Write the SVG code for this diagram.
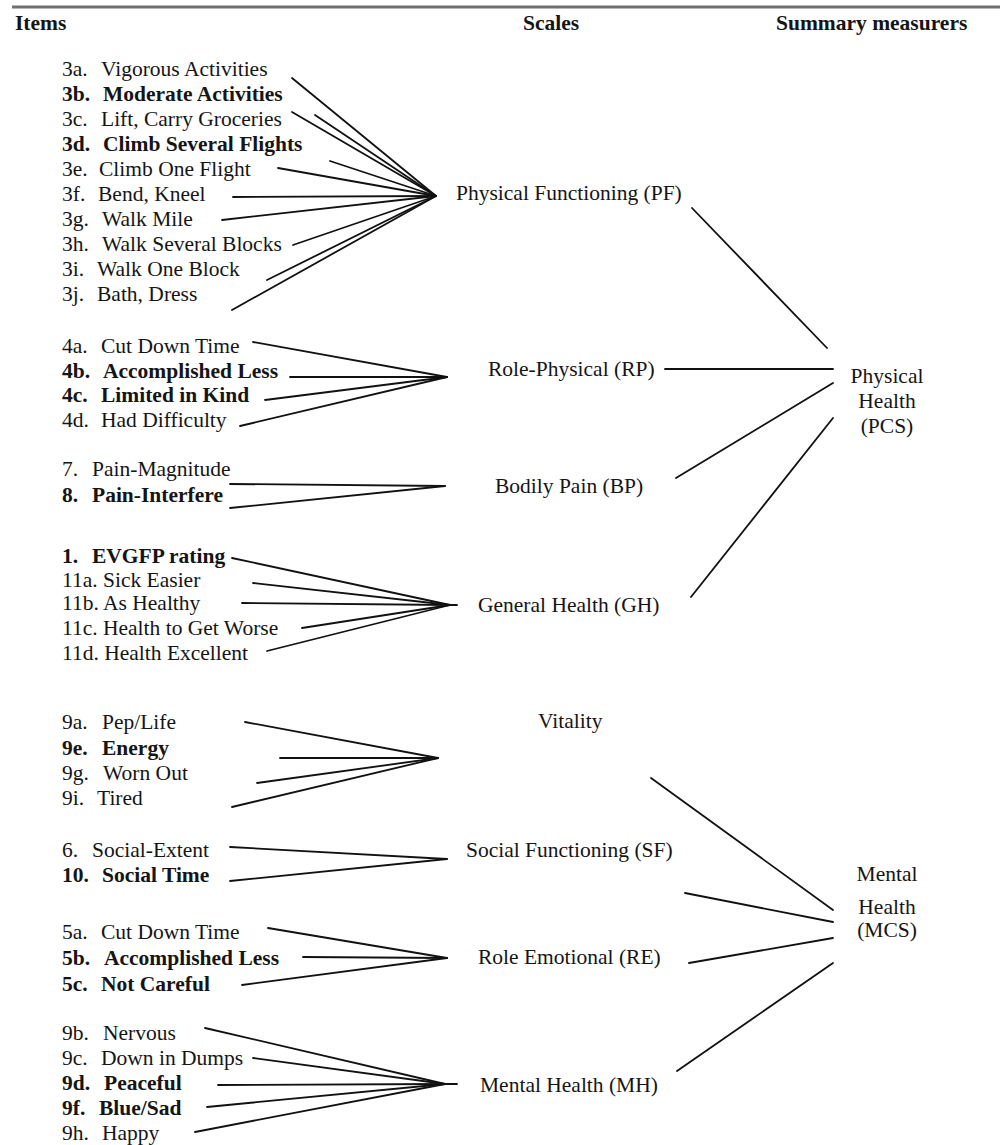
<svg xmlns="http://www.w3.org/2000/svg" width="1000" height="1145" viewBox="0 0 1000 1145">
<style>
text{font-family:"Liberation Serif","Times New Roman",serif;font-size:21.5px;fill:#151515;white-space:pre}
.b{font-weight:bold}
.c{text-anchor:middle}
.conn line{stroke:#111;stroke-width:1.8;stroke-linecap:round}
</style>
<rect width="1000" height="1145" fill="#fff"/>
<line x1="12" y1="7" x2="1000" y2="7" stroke="#707070" stroke-width="3"/>
<g id="headers">
<text class="b" x="15" y="30">Items</text>
<text class="b" x="523" y="30">Scales</text>
<text class="b" x="776" y="30">Summary measurers</text>
</g>
<g class="conn" id="connectors">
<line x1="292" y1="78" x2="436" y2="196"/>
<line x1="292" y1="112" x2="436" y2="196"/>
<line x1="315" y1="115" x2="436" y2="196"/>
<line x1="330" y1="161" x2="436" y2="196"/>
<line x1="278" y1="168" x2="436" y2="196"/>
<line x1="233" y1="197" x2="436" y2="196"/>
<line x1="222" y1="220" x2="436" y2="196"/>
<line x1="293" y1="245" x2="436" y2="196"/>
<line x1="267" y1="280" x2="436" y2="196"/>
<line x1="232" y1="310" x2="436" y2="196"/>
<line x1="253" y1="342" x2="447" y2="377"/>
<line x1="290" y1="377" x2="447" y2="377"/>
<line x1="265" y1="400" x2="447" y2="377"/>
<line x1="240" y1="426" x2="447" y2="377"/>
<line x1="230" y1="484" x2="445" y2="486"/>
<line x1="230" y1="508" x2="445" y2="486"/>
<line x1="232" y1="558" x2="450" y2="605"/>
<line x1="253" y1="583" x2="450" y2="605"/>
<line x1="242" y1="603" x2="450" y2="605"/>
<line x1="302" y1="628" x2="450" y2="605"/>
<line x1="267" y1="651" x2="450" y2="605"/>
<line x1="450" y1="605" x2="457" y2="605"/>
<line x1="245" y1="722" x2="438" y2="758"/>
<line x1="280" y1="758" x2="438" y2="758"/>
<line x1="257" y1="783" x2="438" y2="758"/>
<line x1="232" y1="807" x2="438" y2="758"/>
<line x1="230" y1="847" x2="447" y2="859"/>
<line x1="230" y1="881" x2="447" y2="859"/>
<line x1="268" y1="928" x2="447" y2="958"/>
<line x1="303" y1="957" x2="447" y2="958"/>
<line x1="242" y1="985" x2="447" y2="958"/>
<line x1="205" y1="1028" x2="445" y2="1084"/>
<line x1="253" y1="1058" x2="445" y2="1084"/>
<line x1="218" y1="1085" x2="445" y2="1084"/>
<line x1="207" y1="1107" x2="445" y2="1084"/>
<line x1="195" y1="1132" x2="445" y2="1084"/>
<line x1="445" y1="1084" x2="457" y2="1084"/>
<line x1="692" y1="208" x2="827" y2="348"/>
<line x1="665" y1="369" x2="833" y2="369"/>
<line x1="676" y1="478" x2="833" y2="383"/>
<line x1="691" y1="597" x2="833" y2="418"/>
<line x1="651" y1="778" x2="833" y2="910"/>
<line x1="685" y1="893" x2="833" y2="922"/>
<line x1="689" y1="963" x2="833" y2="938"/>
<line x1="677" y1="1071" x2="833" y2="963"/>
</g>
<g id="item-3a"><text y="76"><tspan x="62">3a.</tspan><tspan x="101">Vigorous Activities</tspan></text></g>
<g id="item-3b"><text class="b" y="101"><tspan x="62">3b.</tspan><tspan x="103">Moderate Activities</tspan></text></g>
<g id="item-3c"><text y="126"><tspan x="62">3c.</tspan><tspan x="101">Lift, Carry Groceries</tspan></text></g>
<g id="item-3d"><text class="b" y="151"><tspan x="62">3d.</tspan><tspan x="103">Climb Several Flights</tspan></text></g>
<g id="item-3e"><text y="176"><tspan x="62">3e.</tspan><tspan x="99">Climb One Flight</tspan></text></g>
<g id="item-3f"><text y="201"><tspan x="62">3f.</tspan><tspan x="98">Bend, Kneel</tspan></text></g>
<g id="item-3g"><text y="226"><tspan x="62">3g.</tspan><tspan x="102">Walk Mile</tspan></text></g>
<g id="item-3h"><text y="251"><tspan x="62">3h.</tspan><tspan x="102">Walk Several Blocks</tspan></text></g>
<g id="item-3i"><text y="276"><tspan x="62">3i.</tspan><tspan x="97">Walk One Block</tspan></text></g>
<g id="item-3j"><text y="301"><tspan x="62">3j.</tspan><tspan x="97">Bath, Dress</tspan></text></g>
<g id="item-4a"><text y="353"><tspan x="62">4a.</tspan><tspan x="101">Cut Down Time</tspan></text></g>
<g id="item-4b"><text class="b" y="378"><tspan x="62">4b.</tspan><tspan x="103">Accomplished Less</tspan></text></g>
<g id="item-4c"><text class="b" y="402"><tspan x="62">4c.</tspan><tspan x="101">Limited in Kind</tspan></text></g>
<g id="item-4d"><text y="427"><tspan x="62">4d.</tspan><tspan x="101">Had Difficulty</tspan></text></g>
<g id="item-7"><text y="476"><tspan x="62">7.</tspan><tspan x="92">Pain-Magnitude</tspan></text></g>
<g id="item-8"><text class="b" y="502"><tspan x="62">8.</tspan><tspan x="92">Pain-Interfere</tspan></text></g>
<g id="item-1"><text class="b" y="563"><tspan x="62">1.</tspan><tspan x="92">EVGFP rating</tspan></text></g>
<g id="item-11a"><text y="587" x="62">11a. Sick Easier</text></g>
<g id="item-11b"><text y="610" x="62">11b. As Healthy</text></g>
<g id="item-11c"><text y="635" x="62">11c. Health to Get Worse</text></g>
<g id="item-11d"><text y="660" x="62">11d. Health Excellent</text></g>
<g id="item-9a"><text y="729"><tspan x="62">9a.</tspan><tspan x="102">Pep/Life</tspan></text></g>
<g id="item-9e"><text class="b" y="755"><tspan x="62">9e.</tspan><tspan x="102">Energy</tspan></text></g>
<g id="item-9g"><text y="780"><tspan x="62">9g.</tspan><tspan x="103">Worn Out</tspan></text></g>
<g id="item-9i"><text y="805"><tspan x="62">9i.</tspan><tspan x="97">Tired</tspan></text></g>
<g id="item-6"><text y="857"><tspan x="62">6.</tspan><tspan x="92">Social-Extent</tspan></text></g>
<g id="item-10"><text class="b" y="882"><tspan x="62">10.</tspan><tspan x="102">Social Time</tspan></text></g>
<g id="item-5a"><text y="939"><tspan x="62">5a.</tspan><tspan x="101">Cut Down Time</tspan></text></g>
<g id="item-5b"><text class="b" y="965"><tspan x="62">5b.</tspan><tspan x="104">Accomplished Less</tspan></text></g>
<g id="item-5c"><text class="b" y="991"><tspan x="62">5c.</tspan><tspan x="101">Not Careful</tspan></text></g>
<g id="item-9b"><text y="1040"><tspan x="62">9b.</tspan><tspan x="103">Nervous</tspan></text></g>
<g id="item-9c"><text y="1065"><tspan x="62">9c.</tspan><tspan x="101">Down in Dumps</tspan></text></g>
<g id="item-9d"><text class="b" y="1090"><tspan x="62">9d.</tspan><tspan x="104">Peaceful</tspan></text></g>
<g id="item-9f"><text class="b" y="1115"><tspan x="62">9f.</tspan><tspan x="99">Blue/Sad</tspan></text></g>
<g id="item-9h"><text y="1140"><tspan x="62">9h.</tspan><tspan x="102">Happy</tspan></text></g>
<g id="scale-pf"><text x="456" y="200">Physical Functioning (PF)</text></g>
<g id="scale-rp"><text x="488" y="376">Role-Physical (RP)</text></g>
<g id="scale-bp"><text x="495" y="493">Bodily Pain (BP)</text></g>
<g id="scale-gh"><text x="478" y="612">General Health (GH)</text></g>
<g id="scale-vt"><text x="538" y="728">Vitality</text></g>
<g id="scale-sf"><text x="466" y="857">Social Functioning (SF)</text></g>
<g id="scale-re"><text x="478" y="964">Role Emotional (RE)</text></g>
<g id="scale-mh"><text x="480" y="1092">Mental Health (MH)</text></g>
<g id="summary-pcs"><text class="c" x="887" y="383">Physical</text><text class="c" x="887" y="408">Health</text><text class="c" x="887" y="433">(PCS)</text></g>
<g id="summary-mcs"><text class="c" x="887" y="881">Mental</text><text class="c" x="887" y="914">Health</text><text class="c" x="887" y="937">(MCS)</text></g>
</svg>
